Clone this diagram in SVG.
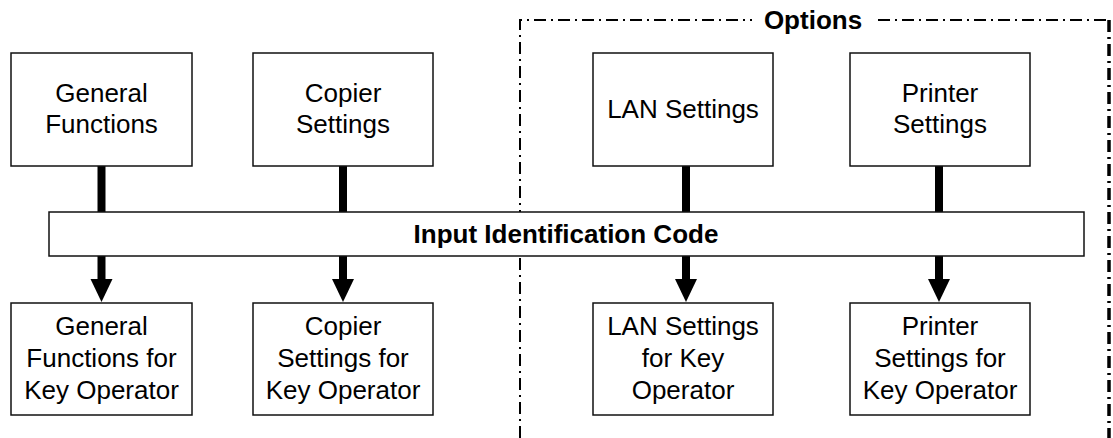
<svg xmlns="http://www.w3.org/2000/svg" width="1113" height="438" viewBox="0 0 1113 438">
<style>
.box{fill:#fff;stroke:#111;stroke-width:1.5}
.t{font-family:"Liberation Sans",Arial,sans-serif;font-size:26px;fill:#000;text-anchor:middle}
.b{font-weight:bold;font-size:26px}
.shaft{stroke:#000;stroke-width:8;fill:none}
.dd{fill:none;stroke:#000;stroke-dasharray:12 5 2 5}
</style>
<rect width="1113" height="438" fill="#fff"/>
<g id="options-frame">
<path class="dd" stroke-width="2" d="M520,438 V20 H752"/>
<path class="dd" stroke-width="2" d="M878,20 H1109"/>
<path class="dd" stroke-width="3.5" d="M1109,20 V438"/>
<text class="t b" x="813" y="29">Options</text>
</g>
<g id="connectors">
<line class="shaft" x1="101.5" y1="166" x2="101.5" y2="213"/>
<line class="shaft" x1="343" y1="166" x2="343" y2="213"/>
<line class="shaft" x1="686" y1="166" x2="686" y2="213"/>
<line class="shaft" x1="939" y1="166" x2="939" y2="213"/>
<line class="shaft" x1="101.5" y1="256" x2="101.5" y2="281"/>
<polygon points="90.5,279 112.5,279 101.5,302"/>
<line class="shaft" x1="343" y1="256" x2="343" y2="281"/>
<polygon points="332,279 354,279 343,302"/>
<line class="shaft" x1="686" y1="256" x2="686" y2="281"/>
<polygon points="675,279 697,279 686,302"/>
<line class="shaft" x1="939" y1="256" x2="939" y2="281"/>
<polygon points="928,279 950,279 939,302"/>
</g>
<g id="general-functions">
<rect class="box" x="11" y="53" width="181" height="113"/>
<text class="t" x="101.5" y="102">General</text>
<text class="t" x="101.5" y="133">Functions</text>
</g>
<g id="copier-settings">
<rect class="box" x="253" y="53" width="180" height="113"/>
<text class="t" x="343" y="102">Copier</text>
<text class="t" x="343" y="133">Settings</text>
</g>
<g id="lan-settings">
<rect class="box" x="593" y="53" width="180" height="113"/>
<text class="t" x="683" y="118">LAN Settings</text>
</g>
<g id="printer-settings">
<rect class="box" x="850" y="53" width="180" height="113"/>
<text class="t" x="940" y="102">Printer</text>
<text class="t" x="940" y="133">Settings</text>
</g>
<g id="input-code">
<rect class="box" x="49" y="212" width="1035" height="44"/>
<text class="t b" x="566" y="243">Input Identification Code</text>
</g>
<g id="general-key">
<rect class="box" x="11" y="303" width="181" height="112"/>
<text class="t" x="101.5" y="335">General</text>
<text class="t" x="101.5" y="367">Functions for</text>
<text class="t" x="101.5" y="399">Key Operator</text>
</g>
<g id="copier-key">
<rect class="box" x="253" y="303" width="180" height="112"/>
<text class="t" x="343" y="335">Copier</text>
<text class="t" x="343" y="367">Settings for</text>
<text class="t" x="343" y="399">Key Operator</text>
</g>
<g id="lan-key">
<rect class="box" x="593" y="303" width="180" height="112"/>
<text class="t" x="683" y="335">LAN Settings</text>
<text class="t" x="683" y="367">for Key</text>
<text class="t" x="683" y="399">Operator</text>
</g>
<g id="printer-key">
<rect class="box" x="850" y="303" width="180" height="112"/>
<text class="t" x="940" y="335">Printer</text>
<text class="t" x="940" y="367">Settings for</text>
<text class="t" x="940" y="399">Key Operator</text>
</g>
</svg>
